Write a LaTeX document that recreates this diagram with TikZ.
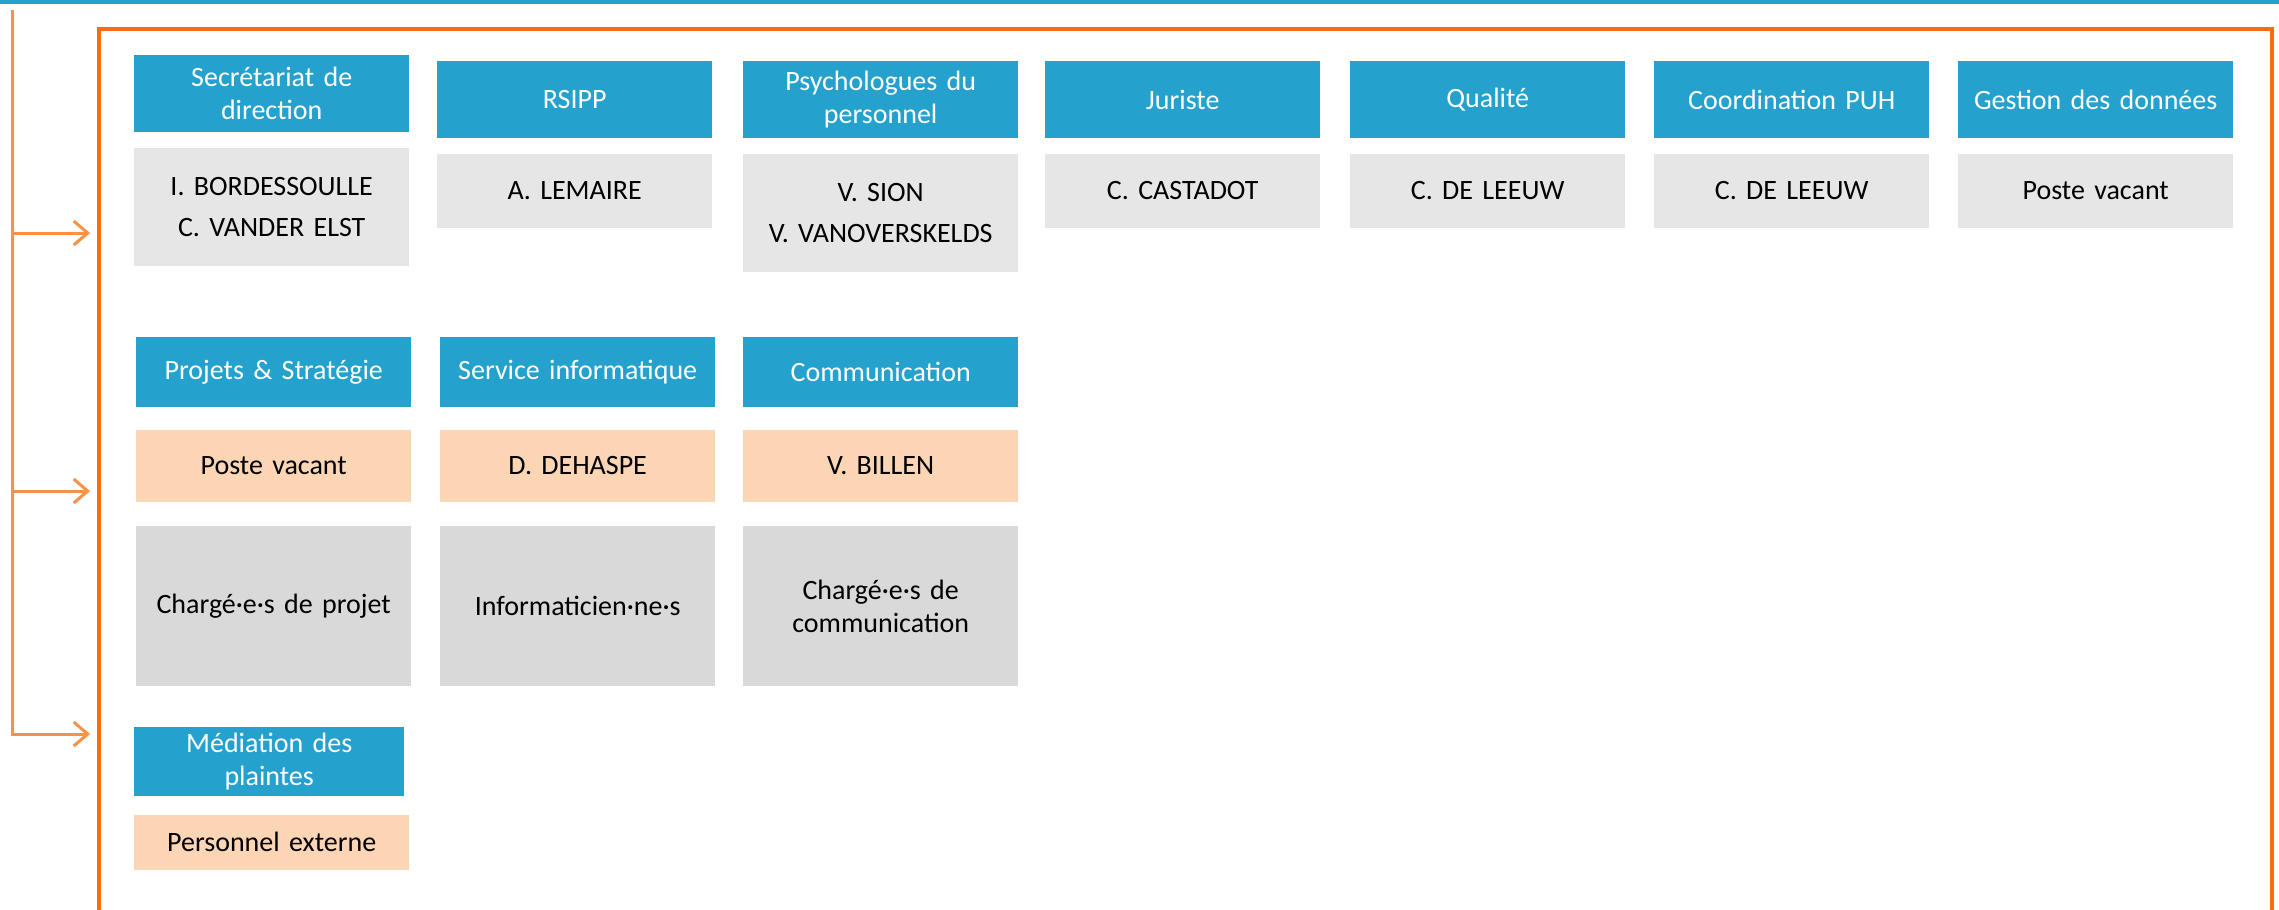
\documentclass[tikz,border=0pt]{standalone}
\usepackage{fontspec}
\setmainfont{Carlito}
\usetikzlibrary{arrows.meta,positioning}
\definecolor{bleutitre}{RGB}{37,161,206}
\definecolor{grisclair}{RGB}{231,230,230}
\definecolor{grisfonce}{RGB}{217,217,217}
\definecolor{peche}{RGB}{252,213,181}
\definecolor{orangecadre}{RGB}{250,108,18}
\definecolor{orangefleche}{RGB}{250,145,70}
\tikzset{line cap=round,line join=round,
    boite/.style={rectangle,inner sep=0pt,minimum width=275pt,text width=265pt,align=center,
        anchor=north west,font=\fontsize{28pt}{33pt}\selectfont},
    titre/.style={boite,fill=bleutitre,text=white,minimum height=77pt},
    nom/.style={boite,fill=grisclair,minimum height=74pt},
    poste/.style={boite,fill=peche,minimum height=72pt},
    equipe/.style={boite,fill=grisfonce,minimum height=160pt},
    fleche/.style={draw=orangefleche,line width=3pt,-{Straight Barb[length=14pt,width=24pt]}}}

\begin{document}
\begin{tikzpicture}[x=1pt,y=-1pt]
    \useasboundingbox (0,0) rectangle (2279,910);
    \fill[bleutitre] (0,0) rectangle (2279,4);
    % cadre orange
    \draw[orangecadre,line width=4pt,line cap=butt] (99,915) |- (2272,29) -- (2272,915);
    % premiere ligne
    \foreach \i/\x/\y/\titre/\hn/\noms in {%
        1/134/55/{Secrétariat de\\direction}/118/{I. BORDESSOULLE\\[8pt]C. VANDER ELST},
        2/437/61/{RSIPP}/74/{A. LEMAIRE},
        3/743/61/{Psychologues du\\personnel}/118/{V. SION\\[8pt]V. VANOVERSKELDS},
        4/1045/61/{Juriste}/74/{C. CASTADOT},
        5/1350/61/{Qualité}/74/{C. DE LEEUW},
        6/1654/61/{Coordination PUH}/74/{C. DE LEEUW},
        7/1958/61/{Gestion des données}/74/{Poste vacant}%
    }{%
    \node[titre,name=titre\i] at (\x,\y) {\titre};
    \node[nom,minimum height=\hn pt,below=15pt of titre\i,name=nom\i] {\noms};
    }
    % deuxieme ligne
    \foreach \i/\x/\titre/\poste/\equipe in {%
        1/136/{Projets \& Stratégie}/{Poste vacant}/{Chargé·e·s de projet},
        2/440/{Service informatique}/{D. DEHASPE}/{Informaticien·ne·s},
        3/743/{Communication}/{V. BILLEN}/{Chargé·e·s de\\communication}%
    }{%
    \node[titre,minimum height=70pt,name=service\i] at (\x,337) {\titre};
    \node[poste,below=22pt of service\i,name=resp\i] {\poste};
    \node[equipe,below=24pt of resp\i,name=equipe\i] {\equipe};
    }
    % troisieme ligne
    \node[titre,minimum height=69pt,minimum width=270pt,name=mediation] at (134,727) {Médiation des\\plaintes};
    \node[poste,minimum height=55pt,below=18pt of mediation.south west,anchor=north west,name=externe] {Personnel externe};
    % fleches
    \coordinate (bus) at (12,10);
    \coordinate (cible1) at (90,233);
    \coordinate (cible2) at (90,491);
    \coordinate (cible3) at (90,734);
    \draw[fleche] (bus) |- (cible3);
    \draw[fleche] (bus |- cible1) -- (cible1);
    \draw[fleche] (bus |- cible2) -- (cible2);
\end{tikzpicture}
\end{document}
